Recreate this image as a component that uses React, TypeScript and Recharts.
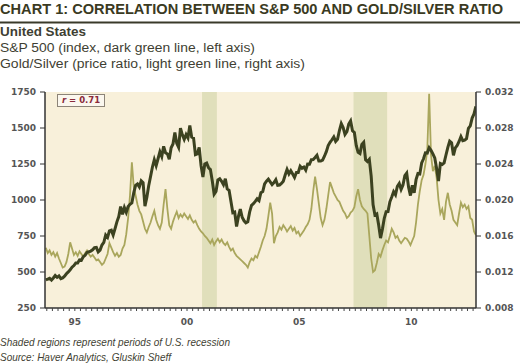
import React from 'react';
import {
  ComposedChart, Line, XAxis, YAxis, CartesianGrid, ReferenceArea,
} from 'recharts';

// monthly, Mar 1994 .. May 2013
const START = 1994 + 2 / 12;

const spx = [
  // 1994 (Mar-Dec)
  445.8, 450.9, 456.5, 444.3, 458.3, 475.5, 462.7, 472.4, 453.7, 459.3,
  // 1995
  470.4, 487.4, 500.7, 514.7, 533.4, 544.8, 562.1, 561.9, 584.4, 581.5, 605.4, 615.9,
  // 1996
  636.0, 640.4, 645.5, 654.2, 669.1, 670.6, 639.9, 651.9, 687.3, 705.3, 757.0, 740.7,
  // 1997
  786.2, 790.8, 757.1, 801.3, 848.3, 885.1, 954.3, 899.5, 947.3, 914.6, 955.4, 970.4,
  // 1998
  980.3, 1049.3, 1101.8, 1111.8, 1090.8, 1133.8, 1120.7, 957.3, 1017.0, 1098.7, 1163.6, 1229.2,
  // 1999
  1279.6, 1238.3, 1286.4, 1335.2, 1301.8, 1372.7, 1328.7, 1320.4, 1282.7, 1362.9, 1389.0, 1469.3,
  // 2000
  1394.5, 1366.4, 1498.6, 1452.4, 1420.6, 1454.6, 1430.8, 1517.7, 1436.5, 1429.4, 1315.2, 1320.3,
  // 2001
  1366.0, 1239.9, 1160.3, 1249.5, 1255.8, 1224.4, 1211.2, 1133.6, 1040.9, 1059.8, 1139.5, 1148.1,
  // 2002
  1130.2, 1106.7, 1147.4, 1076.9, 1067.1, 989.8, 911.6, 916.1, 815.3, 885.8, 936.3, 879.8,
  // 2003
  855.7, 841.2, 848.2, 916.9, 963.6, 974.5, 990.3, 1008.0, 996.0, 1050.7, 1058.2, 1111.9,
  // 2004
  1131.1, 1144.9, 1126.2, 1107.3, 1120.7, 1140.8, 1101.7, 1104.2, 1114.6, 1130.2, 1173.8, 1211.9,
  // 2005
  1181.3, 1203.6, 1180.6, 1156.9, 1191.5, 1191.3, 1234.2, 1220.3, 1228.8, 1207.0, 1249.5, 1248.3,
  // 2006
  1280.1, 1280.7, 1294.9, 1310.6, 1270.1, 1270.2, 1276.7, 1303.8, 1335.9, 1377.9, 1400.6, 1418.3,
  // 2007
  1438.2, 1406.8, 1420.9, 1482.4, 1530.6, 1503.4, 1455.3, 1474.0, 1526.8, 1549.4, 1481.1, 1468.4,
  // 2008
  1378.6, 1330.6, 1322.7, 1385.6, 1400.4, 1280.0, 1267.4, 1282.8, 1166.4, 968.8, 896.2, 903.3,
  // 2009
  825.9, 735.1, 797.9, 872.8, 919.1, 919.3, 987.5, 1020.6, 1057.1, 1036.2, 1095.6, 1115.1,
  // 2010
  1073.9, 1104.5, 1169.4, 1186.7, 1089.4, 1030.7, 1101.6, 1049.3, 1141.2, 1183.3, 1180.6, 1257.6,
  // 2011
  1286.1, 1327.2, 1325.8, 1363.6, 1345.2, 1320.6, 1292.3, 1218.9, 1131.4, 1253.3, 1247.0, 1257.6,
  // 2012
  1312.4, 1365.7, 1408.5, 1397.9, 1310.3, 1362.2, 1379.3, 1406.6, 1440.7, 1412.2, 1416.2, 1426.2,
  // 2013 (Jan-May)
  1498.1, 1514.7, 1569.2, 1597.6, 1650.0,
];

const goldSilver = [
  // 1994 (Mar-Dec)
  0.0147, 0.0141, 0.0144, 0.0139, 0.0142, 0.0137, 0.0141, 0.0135, 0.0130, 0.0125,
  // 1995
  0.0126, 0.0131, 0.0140, 0.0153, 0.0146, 0.0139, 0.0142, 0.0138, 0.0143, 0.0140, 0.0137, 0.0141,
  // 1996
  0.0144, 0.0140, 0.0137, 0.0139, 0.0136, 0.0133, 0.0134, 0.0131, 0.0128, 0.0130, 0.0135, 0.0140,
  // 1997
  0.0152, 0.0147, 0.0142, 0.0138, 0.0141, 0.0137, 0.0139, 0.0146, 0.0150, 0.0162, 0.0180, 0.0205,
  // 1998
  0.0242, 0.0215, 0.0205, 0.0195, 0.0188, 0.0184, 0.0176, 0.0168, 0.0164, 0.0170, 0.0175, 0.0182,
  // 1999
  0.0188, 0.0178, 0.0172, 0.0168, 0.0175, 0.0195, 0.0212, 0.0190, 0.0172, 0.0168, 0.0176, 0.0182,
  // 2000
  0.0187, 0.0180, 0.0184, 0.0181, 0.0185, 0.0182, 0.0179, 0.0183, 0.0178, 0.0175, 0.0177, 0.0172,
  // 2001
  0.0168, 0.0165, 0.0163, 0.0160, 0.0158, 0.0155, 0.0152, 0.0156, 0.0150, 0.0154, 0.0157, 0.0153,
  // 2002
  0.0156, 0.0152, 0.0150, 0.0153, 0.0148, 0.0144, 0.0146, 0.0141, 0.0138, 0.0136, 0.0134, 0.0132,
  // 2003
  0.0130, 0.0128, 0.0125, 0.0131, 0.0135, 0.0133, 0.0138, 0.0136, 0.0142, 0.0148, 0.0155, 0.0160,
  // 2004
  0.0168, 0.0182, 0.0197, 0.0185, 0.0152, 0.0160, 0.0164, 0.0170, 0.0167, 0.0172, 0.0169, 0.0165,
  // 2005
  0.0168, 0.0171, 0.0166, 0.0169, 0.0163, 0.0165, 0.0160, 0.0163, 0.0166, 0.0170, 0.0173, 0.0178,
  // 2006
  0.0190, 0.0210, 0.0226, 0.0212, 0.0196, 0.0180, 0.0172, 0.0178, 0.0190, 0.0205, 0.0220, 0.0214,
  // 2007
  0.0208, 0.0204, 0.0200, 0.0198, 0.0193, 0.0188, 0.0185, 0.0180, 0.0182, 0.0186, 0.0188, 0.0192,
  // 2008
  0.0204, 0.0212, 0.0200, 0.0193, 0.0190, 0.0188, 0.0185, 0.0160, 0.0135, 0.0120, 0.0122, 0.0130,
  // 2009
  0.0140, 0.0137, 0.0144, 0.0150, 0.0155, 0.0153, 0.0160, 0.0168, 0.0164, 0.0158, 0.0160, 0.0155,
  // 2010
  0.0152, 0.0155, 0.0158, 0.0157, 0.0154, 0.0150, 0.0155, 0.0160, 0.0175, 0.0195, 0.0210, 0.0222,
  // 2011
  0.0228, 0.0240, 0.0255, 0.0318, 0.0250, 0.0232, 0.0238, 0.0225, 0.0200, 0.0185, 0.0190, 0.0178,
  // 2012
  0.0198, 0.0208, 0.0195, 0.0188, 0.0178, 0.0175, 0.0172, 0.0185, 0.0197, 0.0192, 0.0195, 0.0190,
  // 2013 (Jan-May)
  0.0193, 0.0180, 0.0178, 0.0165, 0.0161,
];

const leftTicks = [250, 500, 750, 1000, 1250, 1500, 1750];
const rightTicks = [0.008, 0.012, 0.016, 0.02, 0.024, 0.028, 0.032];
const yearLabelAt = [1995.5, 2000.5, 2005.5, 2010.5];
const yearLabels = ['95', '00', '05', '10'];
const recessions = [[2001.17, 2001.83], [2007.92, 2009.42]];

const data = spx.map((v, i) => ({
  t: START + i / 12 + 1 / 24,
  spx: v,
  ratio: goldSilver[i],
}));

const quarterTicks: number[] = [];
for (let q = 1994.25; q < 2013.4; q += 0.25) quarterTicks.push(Math.round(q * 100) / 100);

const tickFont = { fontFamily: 'DejaVu Sans', fontWeight: 700, fontSize: 9, fill: '#555' };

const XTick = (props: any) => {
  const { x, y, payload } = props;
  const idx = yearLabelAt.indexOf(payload.value);
  return (
    <g>
      <line x1={x} x2={x} y1={y} y2={y + 3} stroke="#444" strokeWidth={1} />
      {idx >= 0 && (
        <text x={x} y={y + 17} textAnchor="middle" {...tickFont}>{yearLabels[idx]}</text>
      )}
    </g>
  );
};

const textCol = '#3f3f33';

export default function App() {
  return (
    <div style={{ position: 'absolute', left: 0, top: 0, width: 520, height: 363, background: '#fff', overflow: 'hidden' }}>
      <svg width={520} height={75} style={{ position: 'absolute', left: 0, top: 0 }}>
        <text x={0} y={13.5} fontFamily="Liberation Sans" fontWeight={700} fontSize={14}
          fill="#3a3a22" textLength={503} lengthAdjust="spacingAndGlyphs">
          CHART 1: CORRELATION BETWEEN S&amp;P 500 AND GOLD/SILVER RATIO
        </text>
        <line x1={0} x2={520} y1={22.5} y2={22.5} stroke="#3a3a2a" strokeWidth={2} />
        <text x={0} y={36} fontFamily="Liberation Sans" fontWeight={700} fontSize={12.5}
          fill={textCol} textLength={86} lengthAdjust="spacingAndGlyphs">United States</text>
        <text x={0} y={52} fontFamily="Liberation Sans" fontSize={12.5}
          fill={textCol} textLength={255} lengthAdjust="spacingAndGlyphs">S&amp;P 500 (index, dark green line, left axis)</text>
        <text x={0} y={67.5} fontFamily="Liberation Sans" fontSize={12.5}
          fill={textCol} textLength={305} lengthAdjust="spacingAndGlyphs">Gold/Silver (price ratio, light green line, right axis)</text>
      </svg>

      <div style={{ position: 'absolute', left: 0, top: 0 }}>
        <ComposedChart width={520} height={330} data={data} margin={{ top: 92, right: 0, bottom: 0, left: 0 }}>
          <CartesianGrid horizontal={false} vertical={false} fill="#f8f0da" yAxisId="left" />
          <XAxis dataKey="t" type="number" domain={[1994.17, 2013.38]} allowDataOverflow
            ticks={quarterTicks} interval={0} height={22} tickSize={0} tickMargin={0}
            tickLine={false} tick={<XTick />} axisLine={{ stroke: '#333', strokeWidth: 1.5 }} />
          <YAxis yAxisId="left" orientation="left" width={45} domain={[250, 1750]} ticks={leftTicks}
            interval={0} tickSize={5} tickMargin={4} tick={tickFont}
            tickLine={{ stroke: '#333' }} axisLine={{ stroke: '#333', strokeWidth: 1.5 }} />
          <YAxis yAxisId="right" orientation="right" width={44} domain={[0.008, 0.032]} ticks={rightTicks}
            interval={0} tickSize={5} tickMargin={4} tick={tickFont}
            tickFormatter={(v: number) => v.toFixed(3)}
            tickLine={{ stroke: '#333' }} axisLine={{ stroke: '#333', strokeWidth: 1.5 }} />
          {recessions.map(([a, b], i) => (
            <ReferenceArea key={i} yAxisId="left" x1={a} x2={b} fill="#e0dfbb" fillOpacity={1} stroke="none" />
          ))}
          <Line yAxisId="right" dataKey="ratio" type="linear" stroke="#a9a65c" strokeWidth={1.8}
            dot={false} isAnimationActive={false} />
          <Line yAxisId="left" dataKey="spx" type="linear" stroke="#3c4220" strokeWidth={3}
            dot={false} isAnimationActive={false} />
        </ComposedChart>
      </div>

      <div style={{
        position: 'absolute', left: 57, top: 94, width: 46, height: 11, border: '1px solid #8c8478',
        background: '#fbf7ee', fontFamily: 'DejaVu Sans', fontWeight: 700, fontSize: 8.5,
        color: '#8a2a3a', textAlign: 'center', lineHeight: '11px',
      }}>
        <i>r</i> = 0.71
      </div>

      <svg width={520} height={40} style={{ position: 'absolute', left: 0, top: 330 }}>
        <text x={0} y={16} fontFamily="Liberation Sans" fontStyle="italic" fontSize={11}
          fill={textCol} textLength={230} lengthAdjust="spacingAndGlyphs">Shaded regions represent periods of U.S. recession</text>
        <text x={0} y={31} fontFamily="Liberation Sans" fontStyle="italic" fontSize={11}
          fill={textCol} textLength={171} lengthAdjust="spacingAndGlyphs">Source: Haver Analytics, Gluskin Sheff</text>
      </svg>
    </div>
  );
}
